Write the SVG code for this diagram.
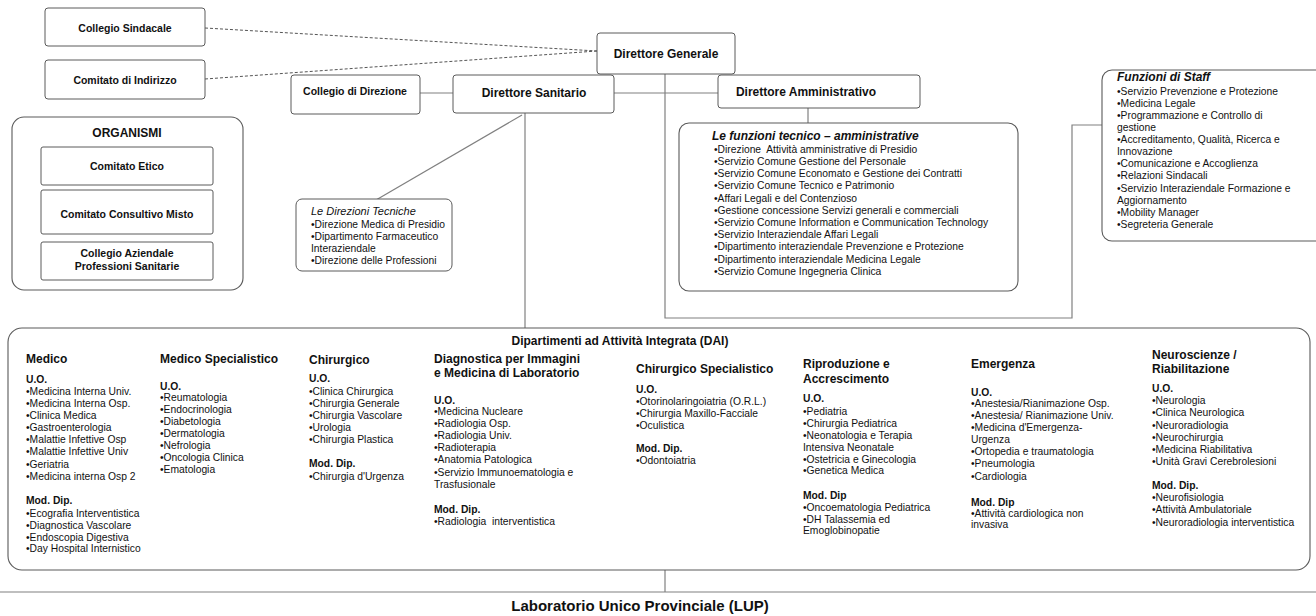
<svg xmlns="http://www.w3.org/2000/svg" width="1316" height="616" viewBox="0 0 1316 616">
<style>
text{font-family:"Liberation Sans",Arial,sans-serif;fill:#111}
.box{fill:#fff;stroke:#5a5a5a;stroke-width:1}
.cont{fill:#fff;stroke:#5a5a5a;stroke-width:1.1}
.lbl{font-size:10.5px;font-weight:bold;text-anchor:middle}
.big{font-size:12px;font-weight:bold;text-anchor:middle}
.it{font-size:10.3px}
.b{font-weight:bold}
.h{font-size:12px;font-weight:bold}
.ttl{font-size:12px;font-weight:bold;font-style:italic}
.conn{fill:none;stroke:#808080;stroke-width:1.2}
.dash{fill:none;stroke:#555;stroke-width:1;stroke-dasharray:3 2}
.pre{white-space:pre}
</style>
<rect width="1316" height="616" fill="#fff"/>
<g id="connectors">
<line class="dash" x1="205" y1="28" x2="597" y2="51"/>
<line class="dash" x1="205" y1="79" x2="597" y2="51"/>
<line class="conn" x1="420" y1="93" x2="453" y2="93"/>
<line class="conn" x1="614" y1="93" x2="718" y2="93"/>
<polyline class="conn" points="665,74 665,318 1072,318 1072,125 1102,125"/>
<line class="conn" x1="808" y1="108" x2="808" y2="123"/>
<line class="conn" x1="525" y1="113" x2="525" y2="328"/>
<line class="conn" x1="522" y1="115" x2="376" y2="200"/>
<line class="conn" x1="665" y1="570" x2="665" y2="592"/>
<line class="conn" x1="0" y1="592" x2="1316" y2="592"/>
</g>
<g id="collegio-sindacale">
<rect class="box" x="45" y="8" width="160" height="38" rx="3"/>
<text class="lbl" x="125" y="32">Collegio Sindacale</text>
</g>
<g id="comitato-indirizzo">
<rect class="box" x="45" y="60" width="160" height="39" rx="3"/>
<text class="lbl" x="125" y="84">Comitato di Indirizzo</text>
</g>
<g id="direttore-generale">
<rect class="box" x="597" y="33" width="138" height="41" rx="3"/>
<text class="big" x="666" y="58">Direttore Generale</text>
</g>
<g id="collegio-direzione">
<rect class="box" x="291" y="75" width="129" height="39" rx="3"/>
<text class="lbl" x="355" y="94.5">Collegio di Direzione</text>
</g>
<g id="direttore-sanitario">
<rect class="box" x="453" y="75" width="161" height="38" rx="3"/>
<text class="big" x="534" y="97">Direttore Sanitario</text>
</g>
<g id="direttore-amministrativo">
<rect class="box" x="718" y="75" width="202" height="33" rx="3"/>
<text class="big" x="806" y="95.5">Direttore Amministrativo</text>
</g>
<g id="organismi">
<rect class="cont" x="12" y="117" width="231" height="173" rx="12"/>
<text class="big" x="127" y="137">ORGANISMI</text>
<rect class="box" x="41" y="147" width="172" height="38" rx="2"/>
<text class="lbl" x="127" y="170">Comitato Etico</text>
<rect class="box" x="41" y="190" width="172" height="44" rx="2"/>
<text class="lbl" x="127" y="218">Comitato Consultivo Misto</text>
<rect class="box" x="41" y="242" width="172" height="38" rx="2"/>
<text class="lbl" x="127" y="257">Collegio Aziendale</text>
<text class="lbl" x="127" y="270">Professioni Sanitarie</text>
</g>
<g id="direzioni-tecniche">
<rect class="box" x="296" y="199" width="156" height="72" rx="6"/>
<text x="311" y="215" style="font-size:11px;font-style:italic">Le Direzioni Tecniche</text>
<text class="it"><tspan x="311" y="227.7">•Direzione Medica di Presidio</tspan><tspan x="311" y="239.9">•Dipartimento Farmaceutico</tspan><tspan x="311" y="252.1">Interaziendale</tspan><tspan x="311" y="264.3">•Direzione delle Professioni</tspan></text>
</g>
<g id="funzioni-tecnico-amministrative">
<rect class="cont" x="679" y="123" width="339" height="168" rx="10"/>
<text class="ttl" x="712" y="139.5">Le funzioni tecnico – amministrative</text>
<text class="it pre"><tspan x="714" y="152.7">•Direzione  Attività amministrative di Presidio</tspan><tspan x="714" y="164.9">•Servizio Comune Gestione del Personale</tspan><tspan x="714" y="177.1">•Servizio Comune Economato e Gestione dei Contratti</tspan><tspan x="714" y="189.3">•Servizio Comune Tecnico e Patrimonio</tspan><tspan x="714" y="201.5">•Affari Legali e del Contenzioso</tspan><tspan x="714" y="213.7">•Gestione concessione Servizi generali e commerciali</tspan><tspan x="714" y="225.9">•Servizio Comune Information e Communication Technology</tspan><tspan x="714" y="238.1">•Servizio Interaziendale Affari Legali</tspan><tspan x="714" y="250.3">•Dipartimento interaziendale Prevenzione e Protezione</tspan><tspan x="714" y="262.5">•Dipartimento interaziendale Medicina Legale</tspan><tspan x="714" y="274.7">•Servizio Comune Ingegneria Clinica</tspan></text>
</g>
<g id="funzioni-staff">
<rect class="cont" x="1102" y="70" width="240" height="171" rx="10"/>
<text class="ttl" x="1117" y="81">Funzioni di Staff</text>
<text class="it"><tspan x="1117" y="94.7">•Servizio Prevenzione e Protezione</tspan><tspan x="1117" y="106.8">•Medicina Legale</tspan><tspan x="1117" y="118.9">•Programmazione e Controllo di</tspan><tspan x="1117" y="131">gestione</tspan><tspan x="1117" y="143.1">•Accreditamento, Qualità, Ricerca e</tspan><tspan x="1117" y="155.2">Innovazione</tspan><tspan x="1117" y="167.3">•Comunicazione e Accoglienza</tspan><tspan x="1117" y="179.4">•Relazioni Sindacali</tspan><tspan x="1117" y="191.5">•Servizio Interaziendale Formazione e</tspan><tspan x="1117" y="203.6">Aggiornamento</tspan><tspan x="1117" y="215.7">•Mobility Manager</tspan><tspan x="1117" y="227.8">•Segreteria Generale</tspan></text>
</g>
<g id="dai">
<rect class="cont" x="8" y="328" width="1302" height="242" rx="14"/>
<text class="big" x="620" y="345">Dipartimenti ad Attività Integrata (DAI)</text>
<g id="dai-medico">
<text class="h" x="26" y="363">Medico</text>
<text class="it b" x="26" y="383">U.O.</text>
<text class="it"><tspan x="26" y="395">•Medicina Interna Univ.</tspan><tspan x="26" y="407">•Medicina Interna Osp.</tspan><tspan x="26" y="419">•Clinica Medica</tspan><tspan x="26" y="431">•Gastroenterologia</tspan><tspan x="26" y="443">•Malattie Infettive Osp</tspan><tspan x="26" y="455">•Malattie Infettive Univ</tspan><tspan x="26" y="468">•Geriatria</tspan><tspan x="26" y="480">•Medicina interna Osp 2</tspan></text>
<text class="it b" x="26" y="504">Mod. Dip.</text>
<text class="it"><tspan x="26" y="517">•Ecografia Interventistica</tspan><tspan x="26" y="529">•Diagnostica Vascolare</tspan><tspan x="26" y="541">•Endoscopia Digestiva</tspan><tspan x="26" y="552">•Day Hospital Internistico</tspan></text>
</g>
<g id="dai-medico-specialistico">
<text class="h" x="160" y="363">Medico Specialistico</text>
<text class="it b" x="160" y="390">U.O.</text>
<text class="it"><tspan x="160" y="401">•Reumatologia</tspan><tspan x="160" y="413">•Endocrinologia</tspan><tspan x="160" y="425">•Diabetologia</tspan><tspan x="160" y="437">•Dermatologia</tspan><tspan x="160" y="449">•Nefrologia</tspan><tspan x="160" y="461">•Oncologia Clinica</tspan><tspan x="160" y="473">•Ematologia</tspan></text>
</g>
<g id="dai-chirurgico">
<text class="h" x="309" y="364">Chirurgico</text>
<text class="it b" x="309" y="382">U.O.</text>
<text class="it"><tspan x="309" y="395">•Clinica Chirurgica</tspan><tspan x="309" y="407">•Chirurgia Generale</tspan><tspan x="309" y="419">•Chirurgia Vascolare</tspan><tspan x="309" y="431">•Urologia</tspan><tspan x="309" y="443">•Chirurgia Plastica</tspan></text>
<text class="it b" x="309" y="467">Mod. Dip.</text>
<text class="it" x="309" y="480">•Chirurgia d'Urgenza</text>
</g>
<g id="dai-diagnostica">
<text class="h"><tspan x="434" y="363">Diagnostica per Immagini</tspan><tspan x="434" y="377">e Medicina di Laboratorio</tspan></text>
<text class="it b" x="434" y="404">U.O.</text>
<text class="it"><tspan x="434" y="415">•Medicina Nucleare</tspan><tspan x="434" y="427">•Radiologia Osp.</tspan><tspan x="434" y="439">•Radiologia Univ.</tspan><tspan x="434" y="451">•Radioterapia</tspan><tspan x="434" y="463">•Anatomia Patologica</tspan><tspan x="434" y="476">•Servizio Immunoematologia e</tspan><tspan x="434" y="488">Trasfusionale</tspan></text>
<text class="it b" x="434" y="513">Mod. Dip.</text>
<text class="it pre" x="434" y="525">•Radiologia  interventistica</text>
</g>
<g id="dai-chirurgico-specialistico">
<text class="h" x="636" y="373">Chirurgico Specialistico</text>
<text class="it b" x="636" y="393">U.O.</text>
<text class="it"><tspan x="636" y="405">•Otorinolaringoiatria (O.R.L.)</tspan><tspan x="636" y="417">•Chirurgia Maxillo-Facciale</tspan><tspan x="636" y="429">•Oculistica</tspan></text>
<text class="it b" x="636" y="452">Mod. Dip.</text>
<text class="it" x="636" y="464">•Odontoiatria</text>
</g>
<g id="dai-riproduzione">
<text class="h"><tspan x="803" y="368">Riproduzione e</tspan><tspan x="803" y="383">Accrescimento</tspan></text>
<text class="it b" x="803" y="402">U.O.</text>
<text class="it"><tspan x="803" y="415">•Pediatria</tspan><tspan x="803" y="427">•Chirurgia Pediatrica</tspan><tspan x="803" y="439">•Neonatologia e Terapia</tspan><tspan x="803" y="451">Intensiva Neonatale</tspan><tspan x="803" y="463">•Ostetricia e Ginecologia</tspan><tspan x="803" y="474">•Genetica Medica</tspan></text>
<text class="it b" x="803" y="499">Mod. Dip</text>
<text class="it"><tspan x="803" y="511">•Oncoematologia Pediatrica</tspan><tspan x="803" y="523">•DH Talassemia ed</tspan><tspan x="803" y="534">Emoglobinopatie</tspan></text>
</g>
<g id="dai-emergenza">
<text class="h" x="971" y="368">Emergenza</text>
<text class="it b" x="971" y="396">U.O.</text>
<text class="it"><tspan x="971" y="407">•Anestesia/Rianimazione Osp.</tspan><tspan x="971" y="419">•Anestesia/ Rianimazione Univ.</tspan><tspan x="971" y="431">•Medicina d'Emergenza-</tspan><tspan x="971" y="443">Urgenza</tspan><tspan x="971" y="455">•Ortopedia e traumatologia</tspan><tspan x="971" y="467">•Pneumologia</tspan><tspan x="971" y="480">•Cardiologia</tspan></text>
<text class="it b" x="971" y="506">Mod. Dip</text>
<text class="it"><tspan x="971" y="517">•Attività cardiologica non</tspan><tspan x="971" y="528">invasiva</tspan></text>
</g>
<g id="dai-neuroscienze">
<text class="h"><tspan x="1152" y="359">Neuroscienze /</tspan><tspan x="1152" y="373">Riabilitazione</tspan></text>
<text class="it b" x="1152" y="392">U.O.</text>
<text class="it"><tspan x="1152" y="404">•Neurologia</tspan><tspan x="1152" y="416">•Clinica Neurologica</tspan><tspan x="1152" y="429">•Neuroradiologia</tspan><tspan x="1152" y="441">•Neurochirurgia</tspan><tspan x="1152" y="453">•Medicina Riabilitativa</tspan><tspan x="1152" y="465">•Unità Gravi Cerebrolesioni</tspan></text>
<text class="it b" x="1152" y="489">Mod. Dip.</text>
<text class="it"><tspan x="1152" y="501">•Neurofisiologia</tspan><tspan x="1152" y="513">•Attività Ambulatoriale</tspan><tspan x="1152" y="526">•Neuroradiologia interventistica</tspan></text>
</g>
</g>
<g id="lup">
<text x="640" y="611" style="font-size:15px;font-weight:bold;text-anchor:middle">Laboratorio Unico Provinciale (LUP)</text>
</g>
</svg>
